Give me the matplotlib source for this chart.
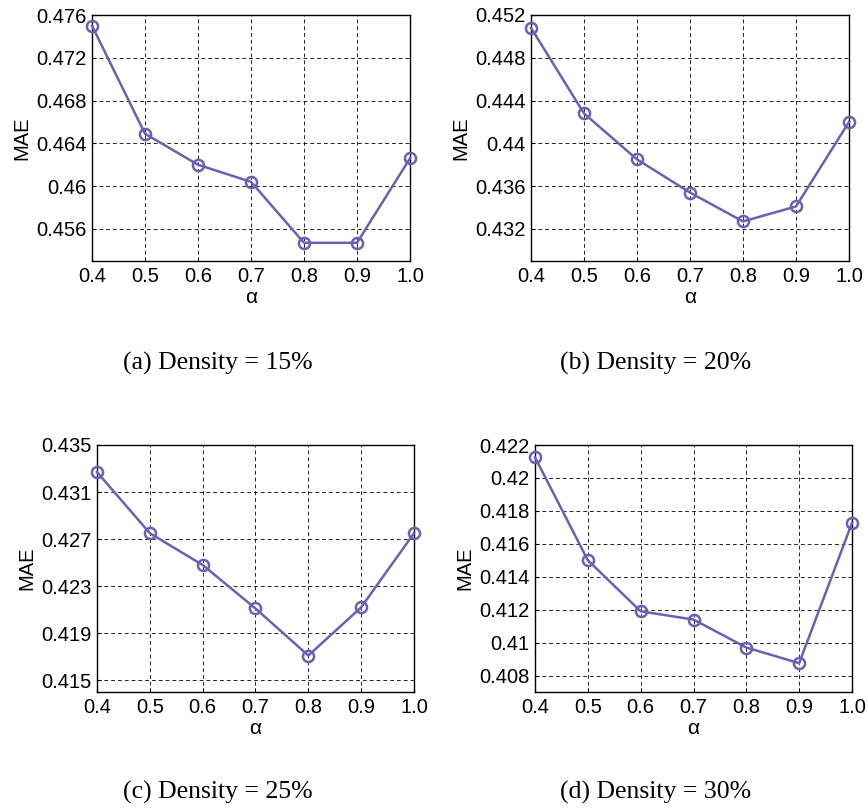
import numpy as np
import matplotlib

matplotlib.use("Agg")
import matplotlib.pyplot as plt
from matplotlib.ticker import FuncFormatter

# alpha values shared by all panels
alpha = [0.4, 0.5, 0.6, 0.7, 0.8, 0.9, 1.0]

# MAE
mae_15 = [0.4750, 0.4649, 0.4620, 0.4604, 0.4547, 0.4547, 0.4626]
mae_20 = [0.4508, 0.4428, 0.4385, 0.4354, 0.4327, 0.4341, 0.4420]
mae_25 = [0.4327, 0.4275, 0.4248, 0.4211, 0.4171, 0.4212, 0.4275]
mae_30 = [0.42125, 0.4150, 0.4119, 0.4114, 0.4097, 0.40875, 0.41727]

captions = ["(a) Density = 15%", "(b) Density = 20%",
            "(c) Density = 25%", "(d) Density = 30%"]
yticks = [
    [0.456, 0.46, 0.464, 0.468, 0.472, 0.476],
    [0.432, 0.436, 0.44, 0.444, 0.448, 0.452],
    [0.415, 0.419, 0.423, 0.427, 0.431, 0.435],
    [0.408, 0.41, 0.412, 0.414, 0.416, 0.418, 0.42, 0.422],
]
ylims = [(0.453, 0.476), (0.429, 0.452), (0.414, 0.435), (0.407, 0.422)]

LINE = "#6A62AE"
W, H = 868, 808
# axes boxes in pixels: left, top, right, bottom
boxes = [(92, 15, 410, 261), (531, 15, 849, 261),
         (97, 445, 414, 692), (535, 445, 852, 692)]
cap_xy = [(218, 363), (656, 363), (218, 792), (656, 792)]


def _fmt(v, _pos):
    # matlab-style: drop trailing zeros
    return f"{v:.3f}".rstrip("0")


fig = plt.figure(figsize=(W / 100, H / 100), dpi=100)
series = [mae_15, mae_20, mae_25, mae_30]
for i, ys in enumerate(series):
    l, t, r, b = boxes[i]
    ax = fig.add_axes([l / W, 1 - b / H, (r - l) / W, (b - t) / H])
    ax.plot(alpha, ys, "-o", color=LINE, lw=1.8, ms=8, mfc="none",
            mew=1.8, zorder=3, clip_on=False)
    ax.set_xlim(0.4, 1.0)
    ax.set_ylim(*ylims[i])
    ax.set_xticks(alpha)
    ax.xaxis.set_major_formatter(FuncFormatter(lambda v, p: f"{v:.1f}"))
    ax.set_yticks(yticks[i])
    ax.yaxis.set_major_formatter(FuncFormatter(_fmt))
    ax.grid(True, color="black", ls=(0, (4, 3)), lw=0.7, alpha=0.85)
    ax.tick_params(direction="in", length=3, labelsize=14.5, pad=4)
    for lab in ax.get_xticklabels() + ax.get_yticklabels():
        lab.set_family("Liberation Sans")
    ax.set_xlabel("α", fontsize=15, family="Liberation Sans")
    ax.set_ylabel("MAE", fontsize=14.5, family="Liberation Sans")
    ax.xaxis.set_label_coords(0.5, -0.11)
    ax.yaxis.set_label_coords(-0.19, 0.5)
    for s in ax.spines.values():
        s.set_linewidth(1.0)
    cx, cy = cap_xy[i]
    fig.text(cx / W, 1 - cy / H, captions[i], ha="center", va="center",
             fontsize=18.5, family="Liberation Serif")

fig.savefig("out.png", dpi=100)
